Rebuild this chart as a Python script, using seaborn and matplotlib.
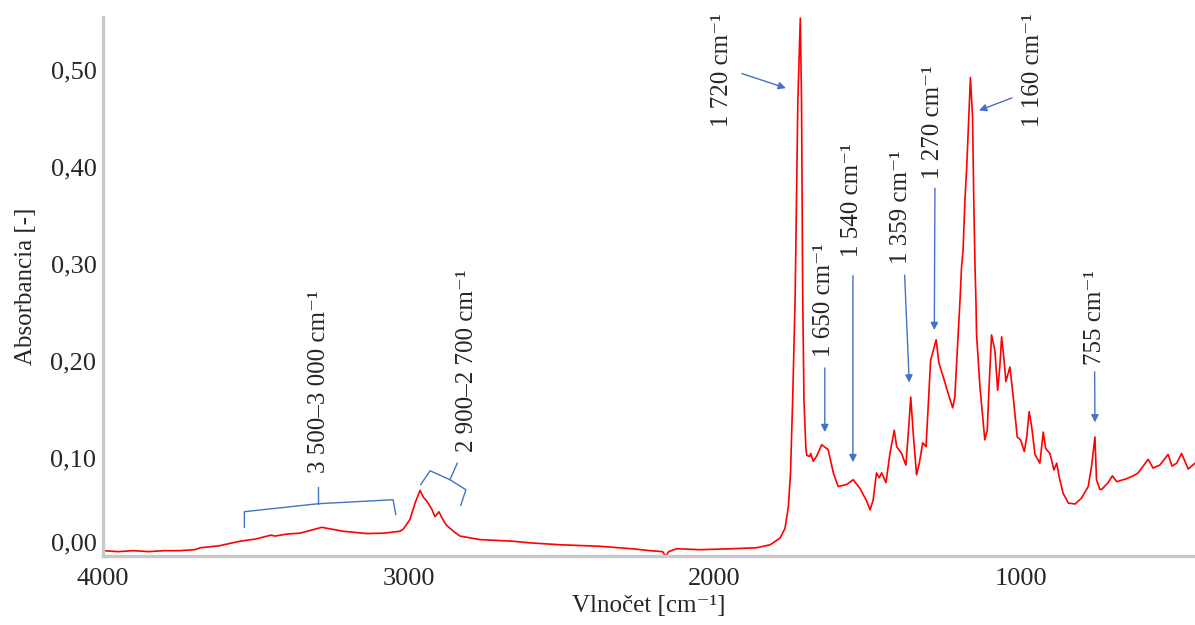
import matplotlib
matplotlib.use("Agg")
import matplotlib.pyplot as plt
from matplotlib.ticker import MultipleLocator, FuncFormatter, FixedLocator
from matplotlib.transforms import ScaledTranslation
import seaborn as sns

# FTIR spectrum: wavenumber [cm-1] and absorbance [-]
wavenumber = [
    4000, 3950, 3900, 3850, 3800, 3750, 3700, 3680, 3620, 3551, 3500, 3450, 3437,
    3400, 3355, 3320, 3284, 3250, 3215, 3137, 3080, 3029, 3018, 2996, 2979, 2963,
    2952, 2941, 2925, 2914, 2901, 2890, 2876, 2850, 2832, 2767, 2659, 2603, 2500,
    2375, 2268, 2212, 2170, 2160, 2150, 2124, 2048, 1940, 1863, 1819, 1786, 1770,
    1759, 1752, 1745, 1737, 1728, 1720, 1716, 1712, 1708, 1702, 1699, 1689, 1686,
    1678, 1667, 1650, 1629, 1612, 1596, 1569, 1547, 1525, 1503, 1492, 1482, 1471,
    1462, 1454, 1440, 1427, 1413, 1405, 1389, 1375, 1367, 1359, 1351, 1340, 1331,
    1320, 1309, 1302, 1294, 1276, 1267, 1253, 1237, 1222, 1215, 1204, 1198, 1193,
    1188, 1182, 1176, 1164, 1157, 1153, 1149, 1146, 1144, 1133, 1124, 1117, 1109,
    1103, 1095, 1084, 1075, 1068, 1062, 1055, 1048, 1035, 1024, 1011, 1000, 988,
    980, 972, 964, 953, 937, 926, 918, 904, 891, 882, 874, 861, 844, 822, 801, 779,
    768, 757, 752, 741, 735, 714, 700, 686, 654, 632, 616, 583, 567, 545, 518, 505,
    490, 474, 452, 430,
]
absorbance = [
    0.005, 0.004, 0.005, 0.004, 0.005, 0.005, 0.006, 0.008, 0.010, 0.0147, 0.017,
    0.021, 0.020, 0.022, 0.023, 0.026, 0.029, 0.027, 0.025, 0.0226, 0.023, 0.025,
    0.027, 0.037, 0.054, 0.067, 0.060, 0.056, 0.048, 0.040, 0.045, 0.038, 0.031,
    0.024, 0.020, 0.0164, 0.0147, 0.013, 0.011, 0.0095, 0.0069, 0.005, 0.004,
    -0.001, 0.004, 0.007, 0.006, 0.007, 0.008, 0.011, 0.018, 0.028, 0.050, 0.085,
    0.160, 0.263, 0.468, 0.553, 0.468, 0.263, 0.160, 0.112, 0.103, 0.102, 0.105,
    0.097, 0.102, 0.114, 0.109, 0.085, 0.071, 0.073, 0.078, 0.069, 0.056, 0.047,
    0.057, 0.085, 0.080, 0.085, 0.075, 0.105, 0.129, 0.112, 0.105, 0.093, 0.126,
    0.163, 0.126, 0.083, 0.095, 0.116, 0.112, 0.153, 0.201, 0.222, 0.198, 0.184,
    0.167, 0.152, 0.163, 0.228, 0.263, 0.297, 0.314, 0.365, 0.400, 0.492, 0.451,
    0.365, 0.297, 0.263, 0.228, 0.174, 0.143, 0.119, 0.129, 0.174, 0.227, 0.211,
    0.170, 0.194, 0.225, 0.204, 0.179, 0.194, 0.163, 0.122, 0.119, 0.107, 0.122,
    0.148, 0.133, 0.104, 0.095, 0.127, 0.110, 0.105, 0.088, 0.095, 0.081, 0.064,
    0.054, 0.053, 0.059, 0.071, 0.092, 0.122, 0.078, 0.068, 0.068, 0.075, 0.082,
    0.076, 0.079, 0.082, 0.085, 0.099, 0.090, 0.093, 0.104, 0.092, 0.095, 0.105,
    0.089, 0.095,
]

# Band labels: text, text position (wavenumber, absorbance), arrow tail, arrow head
band_labels = ["1 720 cm⁻¹", "1 650 cm⁻¹", "1 540 cm⁻¹", "1 359 cm⁻¹",
               "1 270 cm⁻¹", "1 160 cm⁻¹", "755 cm⁻¹"]
band_text_xy = [(1976, 0.500), (1644, 0.263), (1551, 0.366), (1391, 0.358),
                (1287, 0.446), (960, 0.500), (756, 0.245)]
band_arrow_from = [(1911, 0.496), (1640, 0.193), (1548, 0.288), (1379, 0.2885),
                   (1280, 0.378), (1028, 0.471), (758, 0.189)]
band_arrow_to = [(1767, 0.481), (1640, 0.127), (1548, 0.096), (1364, 0.178),
                 (1282, 0.232), (1136, 0.458), (757, 0.137)]

# Range labels with brackets
range_labels = ["3 500–3 000 cm⁻¹", "2 900–2 700 cm⁻¹"]
range_text_xy = [(3293, 0.179), (2809, 0.200)]
bracket_wide_x = [3537, 3537, 3296, 3051, 3042]
bracket_wide_y = [0.0287, 0.0451, 0.0533, 0.0574, 0.042]
bracket_wide_tick_x = [3296, 3296]
bracket_wide_tick_y = [0.0533, 0.0708]
bracket_ch_x = [2961, 2930, 2865, 2813, 2830]
bracket_ch_y = [0.0728, 0.0872, 0.078, 0.0677, 0.0513]
bracket_ch_tick_x = [2865, 2841]
bracket_ch_tick_y = [0.078, 0.0951]

y_ticks = [0.0, 0.1, 0.2, 0.3, 0.4, 0.5]
x_ticks = [4000, 3000, 2000, 1000]

sns.set_style("white")
plt.rcParams["font.family"] = ["Liberation Serif", "DejaVu Serif"]

W, H = 1195, 625
fig = plt.figure(figsize=(W / 100, H / 100), dpi=100)
x0, x1, y_top, y_bot = 102.7, 1195, 16.7, 556
ax = fig.add_axes([x0 / W, (H - y_bot) / H, (x1 - x0) / W, (y_bot - y_top) / H])

sns.lineplot(x=wavenumber, y=absorbance, ax=ax, color="#ff0000", lw=1.2,
             estimator=None, sort=False)

ax.set_xlim(4000, 430)
ax.set_ylim(-0.0005, 0.5545)

blue = "#4472c4"
for txt, (tx, ty), p0, p1 in zip(band_labels, band_text_xy, band_arrow_from, band_arrow_to):
    ax.text(tx, ty, txt, rotation=90, ha="center", va="center", fontsize=18)
    ax.annotate("", xy=p1, xytext=p0,
                arrowprops=dict(arrowstyle="-|>", color=blue, lw=1.0,
                                mutation_scale=11, shrinkA=0, shrinkB=0))

for txt, (tx, ty) in zip(range_labels, range_text_xy):
    ax.text(tx, ty, txt, rotation=90, ha="center", va="center", fontsize=18)
ax.plot(bracket_wide_x, bracket_wide_y, color=blue, lw=1.0)
ax.plot(bracket_wide_tick_x, bracket_wide_tick_y, color=blue, lw=1.0)
ax.plot(bracket_ch_x, bracket_ch_y, color=blue, lw=1.0)
ax.plot(bracket_ch_tick_x, bracket_ch_tick_y, color=blue, lw=1.0)

# Axes styling
for side in ("top", "right"):
    ax.spines[side].set_visible(False)
for side in ("left", "bottom"):
    ax.spines[side].set_color("#c8c8c8")
    ax.spines[side].set_linewidth(2.4)

ax.yaxis.set_major_locator(FixedLocator(y_ticks))
ax.yaxis.set_minor_locator(MultipleLocator(0.025))
ax.xaxis.set_major_locator(FixedLocator(x_ticks))
ax.xaxis.set_minor_locator(MultipleLocator(200))
ax.yaxis.set_major_formatter(FuncFormatter(lambda v, p: f"{v:.2f}".replace(".", ",")))
ax.xaxis.set_major_formatter(FuncFormatter(lambda v, p: f"{v:.0f}"))
ax.tick_params(which="both", direction="inout", length=3, width=1.2, color="#555555")
ax.tick_params(axis="y", labelsize=19, pad=3)
ax.tick_params(axis="x", labelsize=19, pad=7)

ax.set_ylabel("Absorbancia [-]", fontsize=18, labelpad=10)
ax.set_xlabel("Vlnočet [cm⁻¹]", fontsize=18, labelpad=4)

fig.canvas.draw()
for tick in ax.yaxis.get_major_ticks():
    if abs(tick.get_loc()) < 1e-9:
        tick.label1.set_transform(tick.label1.get_transform()
                                  + ScaledTranslation(0, 0.14, fig.dpi_scale_trans))

fig.savefig("out.png", dpi=100)
